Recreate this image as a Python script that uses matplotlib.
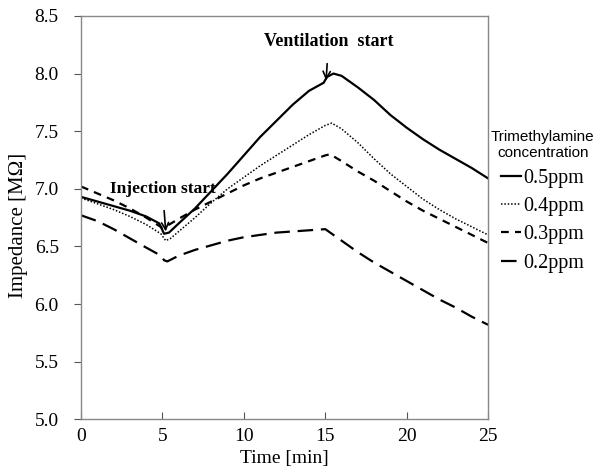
import matplotlib.pyplot as plt

t_05 = [0, 1, 2, 3, 4, 4.8, 5.1, 5.4, 6, 7, 8, 9, 10, 11, 12, 13, 14, 14.9, 15.1, 15.5,
        16, 17, 18, 19, 20, 21, 22, 23, 24, 25]
z_05 = [6.93, 6.89, 6.85, 6.81, 6.76, 6.70, 6.61, 6.62, 6.70, 6.83, 6.98, 7.13, 7.29, 7.45,
        7.59, 7.73, 7.85, 7.92, 7.97, 8.00, 7.98, 7.88, 7.77, 7.64, 7.53, 7.43, 7.34, 7.26,
        7.18, 7.09]

t_04 = [0, 1, 2, 3, 4, 4.9, 5.2, 5.5, 6, 7, 8, 9, 10, 11, 12, 13, 14, 15, 15.4, 16, 17,
        18, 19, 20, 21, 22, 23, 24, 25]
z_04 = [6.92, 6.87, 6.82, 6.76, 6.69, 6.61, 6.55, 6.57, 6.63, 6.75, 6.88, 7.00, 7.10, 7.20,
        7.29, 7.38, 7.47, 7.55, 7.57, 7.52, 7.40, 7.26, 7.13, 7.02, 6.91, 6.82, 6.74, 6.67,
        6.60]

t_03 = [0, 1, 2, 3, 4, 5, 5.3, 6, 7, 8, 9, 10, 11, 12, 13, 14, 15, 15.3, 16, 17, 18, 19,
        20, 21, 22, 23, 24, 25]
z_03 = [7.02, 6.96, 6.90, 6.83, 6.75, 6.66, 6.68, 6.74, 6.82, 6.89, 6.96, 7.03, 7.09, 7.14,
        7.19, 7.24, 7.29, 7.30, 7.24, 7.15, 7.07, 6.98, 6.89, 6.81, 6.74, 6.67, 6.60, 6.53]

t_02 = [0, 1, 2, 3, 4, 4.9, 5.1, 5.3, 6, 7, 8, 9, 10, 11, 12, 13, 14, 15, 16, 17, 18, 19,
        20, 21, 22, 23, 24, 25]
z_02 = [6.77, 6.72, 6.65, 6.57, 6.49, 6.42, 6.38, 6.37, 6.42, 6.47, 6.51, 6.55, 6.58, 6.60,
        6.62, 6.63, 6.64, 6.65, 6.55, 6.45, 6.36, 6.28, 6.20, 6.12, 6.04, 5.97, 5.89, 5.82]

labels = ['0.5ppm', '0.4ppm', '0.3ppm', '0.2ppm']
x_ticks = [0, 5, 10, 15, 20, 25]
y_ticks = [5.0, 5.5, 6.0, 6.5, 7.0, 7.5, 8.0, 8.5]

serif = 'Liberation Serif'
plt.rcParams['font.family'] = serif

fig = plt.figure(figsize=(5.96, 4.68), dpi=100)
ax = fig.add_axes([0.136, 0.104, 0.683, 0.862])

ax.plot(t_05, z_05, color='black', lw=1.6, label=labels[0])
ax.plot(t_04, z_04, color='black', lw=1.1, ls=(0, (1, 1.2)), label=labels[1])
ax.plot(t_03, z_03, color='black', lw=1.6, ls=(0, (3.5, 2.8)), label=labels[2])
ax.plot(t_02, z_02, color='black', lw=1.6, ls=(0, (7, 3.5)), label=labels[3])

ax.set_xlim(0, 25)
ax.set_ylim(5.0, 8.5)
ax.set_xticks(x_ticks)
ax.set_yticks(y_ticks)
ax.set_yticklabels([f'{v:.1f}' for v in y_ticks])
ax.tick_params(axis='x', direction='in', length=5, labelsize=14, color='#555555', pad=6)
ax.tick_params(axis='y', direction='out', length=5, labelsize=14, color='#555555', pad=11)
for s in ax.spines.values():
    s.set_color('#888888')
    s.set_linewidth(1.0)

ax.set_xlabel('Time [min]', fontsize=14, labelpad=4)
ax.set_ylabel('Impedance [M\u03a9]', fontsize=15)
ax.yaxis.set_label_coords(-0.13, 0.48)

ax.annotate('Injection start', xy=(5.2, 6.63), xytext=(5.0, 7.0),
            ha='center', va='center', fontsize=12.5, fontweight='bold',
            arrowprops=dict(arrowstyle='->', color='black', lw=1.2,
                            shrinkA=8, shrinkB=0))
ax.annotate('Ventilation  start', xy=(15.05, 7.94), xytext=(15.2, 8.28),
            ha='center', va='center', fontsize=13, fontweight='bold',
            arrowprops=dict(arrowstyle='->', color='black', lw=1.2,
                            shrinkA=8, shrinkB=0))

leg = ax.legend(loc='upper left', bbox_to_anchor=(0.81, 0.74),
                bbox_transform=fig.transFigure, frameon=False,
                title='Trimethylamine\nconcentration',
                title_fontproperties={'family': 'Liberation Sans', 'size': 11},
                prop={'family': serif, 'size': 14.5}, handlelength=1.0,
                handletextpad=0.08, labelspacing=0.45, borderaxespad=0)
leg._legend_box.align = 'center'
leg.get_title().set_multialignment('center')

fig.savefig('out.png', dpi=100)
